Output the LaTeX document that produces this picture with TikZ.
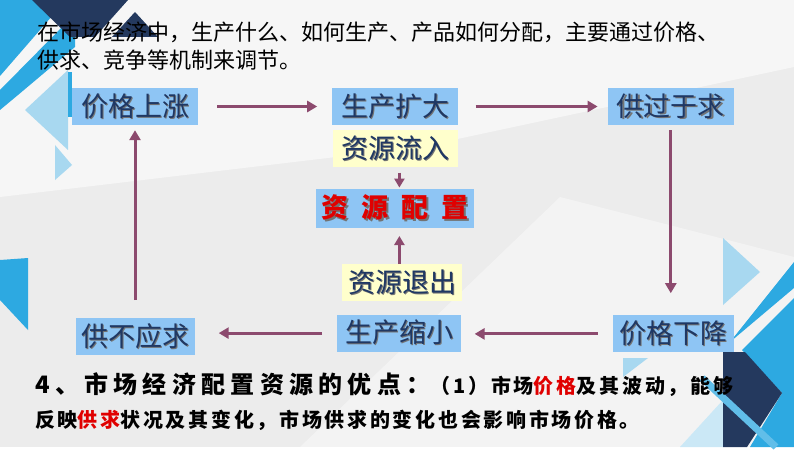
\documentclass[tikz,border=0pt]{standalone}
\usepackage{fontspec}
\setmainfont{Noto Sans CJK SC}
\usepackage{xcolor}
\usepackage{tikz}
\usetikzlibrary{
    positioning,
    arrows.meta,
    calc
}
\definecolor{boxblue}{HTML}{8EC5F4}
\definecolor{boxyellow}{HTML}{FFFFCC}
\definecolor{textnavy}{HTML}{1F3864}
\definecolor{arrowplum}{HTML}{8C4A6E}
\definecolor{decocyan}{HTML}{2DA9E1}
\definecolor{deconavy}{HTML}{24395E}
\definecolor{decopale}{HTML}{A8D8F0}
\definecolor{bggray}{HTML}{ECECEC}
\definecolor{keyred}{HTML}{E00000}
\newcommand{\shadowed}[1]{\rlap{\hspace{1.2pt}\raisebox{-1.2pt}{\color{black!55}#1}}#1}
\tikzset{
    stepblue/.style={
        rectangle, fill=boxblue,
        minimum width=126pt, minimum height=37pt, inner sep=0pt,
        text=textnavy, font=\fontsize{27}{27}\selectfont
    },
    flowyellow/.style={
        rectangle, fill=boxyellow,
        minimum width=125pt, minimum height=37pt, inner sep=0pt,
        text=textnavy, font=\fontsize{27}{27}\selectfont
    },
    arrow/.style={
        -{Triangle[length=10pt,width=11pt]}, line width=3pt, draw=arrowplum
    },
    smallarrow/.style={
        -{Triangle[length=9pt,width=10pt]}, line width=2.6pt, draw=arrowplum
    },
    bodytext/.style={
        anchor=west, inner sep=0pt, align=left
    }
}

\begin{document}
\begin{tikzpicture}[x=1pt, y=1pt]
    % background and decoration
    \fill[bggray] (0,0) rectangle (794,447);
    \fill[white, opacity=0.55] (0,447) -- (794,447) -- (794,380) -- (420,300) -- (0,250) -- cycle;
    \fill[white, opacity=0.4] (300,0) -- (560,250) -- (794,190) -- (794,0) -- cycle;
    \fill[decocyan] (0,447) -- (66,447) -- (0,371) -- cycle;
    \fill[decocyan] (0,357) -- (75,433) -- (75,400) -- (18,352) -- (0,337) -- cycle;
    \fill[deconavy] (32,447) -- (128,447) -- (95,410) -- (70,410) -- cycle;
    \fill[deconavy] (135,435) -- (158,410) -- (112,410) -- cycle;
    \fill[decopale] (25,337) -- (68,377) -- (68,297) -- cycle;
    \fill[decopale] (55,302) -- (72,282) -- (55,267) -- cycle;
    \fill[decocyan] (68,375) -- (72,375) -- (72,330) -- (68,330) -- cycle;
    \fill[decocyan] (0,187) -- (28,189) -- (28,117) -- (0,147) -- cycle;
    \fill[decopale] (723,209) -- (723,142) -- (760,175) -- cycle;
    \fill[decopale] (623,89) -- (648,89) -- (623,70) -- cycle;
    \fill[decopale!60] (680,0) -- (723,47) -- (723,0) -- cycle;
    \fill[decocyan] (794,185) -- (730,105) -- (794,159) -- cycle;
    \fill[decocyan] (794,149) -- (742,97) -- (782,54) -- (750,0) -- (794,0) -- cycle;
    \fill[deconavy] (723,95) -- (745,95) -- (782,54) -- (747,0) -- (723,0) -- cycle;
    \draw[decocyan!75, line width=7pt] (702,69) -- (776,0);

    % cycle of boxes
    \node[stepblue] (up) at (135,340.5) {\shadowed{价格上涨}};
    \node[stepblue, right=134pt of up] (expand) {\shadowed{生产扩大}};
    \node[stepblue, right=149pt of expand] (surplus) {\shadowed{供过于求}};
    \node[stepblue, minimum width=121pt, below=190pt of surplus, xshift=2.5pt] (fall) {\shadowed{价格下降}};
    \node[stepblue, minimum width=119pt, below=193pt of up] (shortage) {\shadowed{供不应求}};

    \node[flowyellow, below=5pt of expand] (inflow) {\shadowed{资源流入}};
    \node[stepblue, minimum width=158pt, minimum height=39pt, below=21pt of inflow] (alloc)
        {\color{keyred}\bfseries\shadowed{资\hspace{13pt}源\hspace{13pt}配\hspace{13pt}置}};
    \node[flowyellow, minimum width=120pt, below=36pt of alloc, xshift=7pt] (outflow) {\shadowed{资源退出}};
    \node[stepblue, minimum width=124pt, below=13pt of outflow, xshift=-3pt] (shrink) {\shadowed{生产缩小}};

    \draw[arrow, shorten <=19pt, shorten >=15pt] (up) -- (expand);
    \draw[arrow, shorten <=17pt, shorten >=10pt] (expand) -- (surplus);
    \draw[arrow, shorten <=5pt, shorten >=22pt] (surplus.south) -- (surplus.south |- fall.north);
    \draw[arrow, shorten <=15pt, shorten >=13pt] (fall.west) -- (fall.west -| shrink.east);
    \draw[arrow, shorten <=15pt, shorten >=24pt] (shrink.west) -- (shrink.west -| shortage.east);
    \draw[arrow, shorten <=18pt, shorten >=5pt] (shortage.north) -- (shortage.north |- up.south);
    \draw[smallarrow, shorten <=5pt, shorten >=1pt] ($(inflow.south)+(4,0)$) -- ($(inflow.south |- alloc.north)+(4,0)$);
    \draw[smallarrow, shorten >=8pt] ($(outflow.north)+(-3,0)$) -- ($(outflow.north |- alloc.south)+(-3,0)$);

    % texts
    \node[bodytext, font=\fontsize{22}{28}\selectfont] (intro) at (37,401)
        {在市场经济中，生产什么、如何生产、产品如何分配，主要通过价格、\\供求、竞争等机制来调节。};
    \node[bodytext, font=\bfseries] (merit) at (35,62)
        {{\fontsize{24}{24}\selectfont\addfontfeature{LetterSpace=22}4、市场经济配置资源的优点：}{\fontsize{20}{20}\selectfont\addfontfeature{LetterSpace=14}（1）市场{\color{keyred}价格}及其波动，能够}};
    \node[bodytext, font=\bfseries\fontsize{20}{20}\selectfont\addfontfeature{LetterSpace=13.5}] (merit2) at (35,27)
        {反映{\color{keyred}供求}状况及其变化，市场供求的变化也会影响市场价格。};
\end{tikzpicture}
\end{document}
